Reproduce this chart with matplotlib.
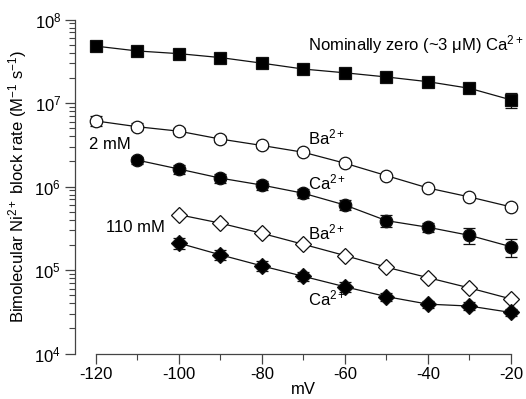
import numpy as np
import matplotlib.pyplot as plt
from matplotlib.ticker import LogLocator, LogFormatterMathtext, MultipleLocator, NullFormatter

plt.rcParams['font.family'] = ['Liberation Sans', 'DejaVu Sans']
plt.rcParams['mathtext.fontset'] = 'custom'
plt.rcParams['mathtext.rm'] = 'Liberation Sans'
plt.rcParams['mathtext.it'] = 'Liberation Sans'
plt.rcParams['mathtext.default'] = 'regular'
plt.rcParams['axes.unicode_minus'] = False

# membrane potential (mV)
v_all = [-120, -110, -100, -90, -80, -70, -60, -50, -40, -30, -20]

# nominally zero Ca2+
zero_ca = [4.8e7, 4.2e7, 3.9e7, 3.5e7, 3.0e7, 2.55e7, 2.3e7, 2.05e7, 1.8e7, 1.5e7, 1.09e7]
zero_ca_err = [1.5e6, 1.2e6, 1.0e6, 1.0e6, 0.8e6, 0.7e6, 0.6e6, 0.6e6, 0.6e6, 0.6e6, 2.3e6]

# 2 mM Ba2+
ba2 = [6.1e6, 5.2e6, 4.6e6, 3.7e6, 3.1e6, 2.57e6, 1.9e6, 1.35e6, 9.6e5, 7.5e5, 5.7e5]
ba2_err = [8e5, 5e5, 4e5, 3e5, 2e5, 1.5e5, 1e5, 8e4, 5e4, 4e4, 3e4]

# 2 mM Ca2+
v_ca2 = [-110, -100, -90, -80, -70, -60, -50, -40, -30, -20]
ca2 = [2.07e6, 1.62e6, 1.26e6, 1.04e6, 8.3e5, 6.0e5, 3.9e5, 3.25e5, 2.6e5, 1.9e5]
ca2_err = [2e5, 2e5, 1.7e5, 1.2e5, 1e5, 8e4, 6e4, 4e4, 5.5e4, 4.8e4]

# 110 mM Ba2+
v_110 = [-100, -90, -80, -70, -60, -50, -40, -30, -20]
ba110 = [4.6e5, 3.64e5, 2.75e5, 2.03e5, 1.49e5, 1.08e5, 8.1e4, 6.1e4, 4.5e4]
ba110_err = [1.5e4, 1.2e4, 9e3, 7e3, 5e3, 4e3, 3e3, 2e3, 2e3]

# 110 mM Ca2+
ca110 = [2.1e5, 1.52e5, 1.12e5, 8.4e4, 6.3e4, 4.8e4, 3.9e4, 3.7e4, 3.1e4]
ca110_err = [3e4, 2.2e4, 1.5e4, 1.1e4, 8e3, 5e3, 4e3, 4e3, 3e3]

fig = plt.figure(figsize=(5.26, 3.99), dpi=100)
ax = fig.add_axes([75 / 526, 45.5 / 399, 436 / 526, 334 / 399])

series = [
    (v_all, zero_ca, zero_ca_err, 's', 'black'),
    (v_all, ba2, ba2_err, 'o', 'white'),
    (v_ca2, ca2, ca2_err, 'o', 'black'),
    (v_110, ba110, ba110_err, 'D', 'white'),
    (v_110, ca110, ca110_err, 'D', 'black'),
]
for xs, ys, es, mk, fc in series:
    ms = 8.2 if mk == 'D' else 9
    ax.errorbar(xs, ys, yerr=es, fmt='-', color='#111111', lw=0.9,
                marker=mk, ms=ms, mfc=fc, mec='#111111', mew=0.9,
                elinewidth=0.9, capsize=4, capthick=0.9, clip_on=False, zorder=3)

ax.set_yscale('log')
ax.set_ylim(1e4, 1e8)
ax.set_xlim(-125, -20)

ax.spines['top'].set_visible(False)
ax.spines['right'].set_visible(False)
ax.spines['bottom'].set_bounds(-120, -20)
for s in ['left', 'bottom']:
    ax.spines[s].set_color('#444444')
    ax.spines[s].set_linewidth(0.9)

ax.set_xticks([-120, -100, -80, -60, -40, -20])
ax.xaxis.set_minor_locator(MultipleLocator(10))
ax.yaxis.set_major_locator(LogLocator(base=10, numticks=10))
ax.yaxis.set_minor_locator(LogLocator(base=10, subs=np.arange(2, 10), numticks=10))
ax.yaxis.set_major_formatter(LogFormatterMathtext())
ax.yaxis.set_minor_formatter(NullFormatter())
ax.tick_params(which='major', direction='out', length=7, width=0.9, color='#444444',
               labelsize=12, pad=3)
ax.tick_params(which='minor', direction='out', length=4, width=0.8, color='#444444')

ax.set_xlabel('mV', fontsize=12, labelpad=2)
ax.xaxis.set_label_coords((303 - 75) / 436, -0.085)
ax.set_ylabel('Bimolecular Ni$^{2+}$ block rate (M$^{-1}$ s$^{-1}$)', fontsize=12, labelpad=4)

tk = dict(fontsize=12, va='center', ha='left')
ax.text(-69, 4.95e7, 'Nominally zero (~3 μM) Ca$^{2+}$', **tk)
ax.text(-69, 3.9e6, 'Ba$^{2+}$', **tk)
ax.text(-69, 1.13e6, 'Ca$^{2+}$', **tk)
ax.text(-69, 2.85e5, 'Ba$^{2+}$', **tk)
ax.text(-69, 4.6e4, 'Ca$^{2+}$', **tk)
ax.text(-121.6, 3.2e6, '2 mM', **tk)
ax.text(-117.5, 3.2e5, '110 mM', **tk)

fig.savefig('out.png', dpi=100)
